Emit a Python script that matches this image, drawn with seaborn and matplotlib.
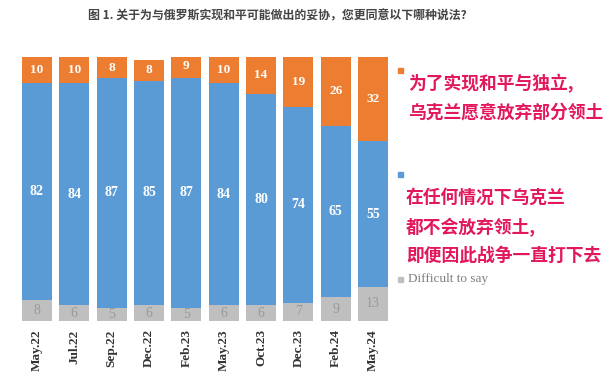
"""Stacked 100% bars: Ukrainian opinion on territorial concessions, May.22 - May.24."""
import matplotlib
matplotlib.use("Agg")
import matplotlib.pyplot as plt
import numpy as np
import pandas as pd
import seaborn as sns

# data
waves = ["May.22", "Jul.22", "Sep.22", "Dec.22", "Feb.23",
         "May.23", "Oct.23", "Dec.23", "Feb.24", "May.24"]
concede = [10, 10, 8, 8, 9, 10, 14, 19, 26, 32]
never = [82, 84, 87, 85, 87, 84, 80, 74, 65, 55]
hard_to_say = [8, 6, 5, 6, 5, 6, 6, 7, 9, 13]

title = "图 1. 关于为与俄罗斯实现和平可能做出的妥协，您更同意以下哪种说法?"
legend_concede = "为了实现和平与独立,\n乌克兰愿意放弃部分领土"
legend_never = "在任何情况下乌克兰\n都不会放弃领土,\n即便因此战争一直打下去"
legend_hard = "Difficult to say"

ORANGE = "#ED7D31"
BLUE = "#5B9BD5"
GREY = "#BFBFBF"
PINK = "#E2185B"

sns.set_theme(style="white")
plt.rcParams["font.family"] = ["Noto Sans CJK SC", "DejaVu Sans"]

df = pd.DataFrame({"wave": waves, "concede": concede,
                   "never": never, "hard": hard_to_say})
df["lower"] = df["hard"]
df["middle"] = df["hard"] + df["never"]
df["total"] = df["middle"] + df["concede"]

fig = plt.figure(figsize=(6.16, 3.79), dpi=100)
ax = fig.add_axes([22 / 616, 1 - 321 / 379, 366 / 616, 264 / 379])

# layered bars: tallest first, shorter ones drawn on top
for col, colour in [("total", ORANGE), ("middle", BLUE), ("lower", GREY)]:
    sns.barplot(data=df, x="wave", y=col, color=colour, saturation=1,
                width=0.8, order=waves, ax=ax, linewidth=0)

serif = "Liberation Serif"
for i, row in df.iterrows():
    ax.text(i, (row["middle"] + row["total"]) / 2, str(row["concede"]),
            ha="center", va="center", color="white", fontsize=9.5,
            fontweight="bold", family=serif)
    ax.text(i, (row["lower"] + row["middle"]) / 2, str(row["never"]),
            ha="center", va="center", color="white", fontsize=10,
            fontweight="bold", family=serif)
    ax.text(i, row["lower"] / 2, str(row["hard"]),
            ha="center", va="center", color="#999999", fontsize=10,
            family=serif)

ax.set_xlim(-0.4, 9.4)
ax.set_ylim(0, 100)
ax.set_xlabel("")
ax.set_ylabel("")
ax.set_yticks([])
ax.tick_params(axis="x", length=0, pad=6)
ax.set_xticks(range(len(waves)))
ax.set_xticklabels(waves, rotation=90, family=serif, fontweight="bold",
                   fontsize=9.5, color="#333333")
sns.despine(ax=ax, left=True, bottom=True)

fig.text(277 / 616, 1 - 16 / 379, title, ha="center", va="center",
         fontsize=8.6, fontweight="bold", color="#444444")

# hand-placed legend on the right
fig.patches.append(plt.Rectangle((398 / 616, 1 - 73 / 379), 5 / 616, 5 / 379,
                                 color=ORANGE, transform=fig.transFigure))
fig.patches.append(plt.Rectangle((398 / 616, 1 - 177 / 379), 5 / 616, 5 / 379,
                                 color=BLUE, transform=fig.transFigure))
fig.patches.append(plt.Rectangle((398 / 616, 1 - 282 / 379), 5 / 616, 5 / 379,
                                 color=GREY, transform=fig.transFigure))
fig.text(408 / 616, 1 - 98 / 379, legend_concede, ha="left", va="center",
         fontsize=12.8, fontweight="bold", color=PINK, linespacing=1.7)
fig.text(406 / 616, 1 - 227 / 379, legend_never, ha="left", va="center",
         fontsize=12.8, fontweight="bold", color=PINK, linespacing=1.7)
fig.text(408 / 616, 1 - 279 / 379, legend_hard, ha="left", va="center",
         fontsize=9.5, color="#7F7F7F", family=serif)

fig.savefig("out.png", dpi=100)
